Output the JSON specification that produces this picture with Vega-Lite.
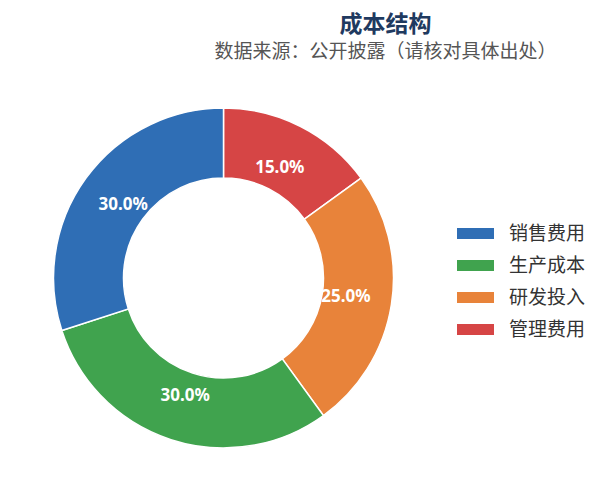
{
  "$schema": "https://vega.github.io/schema/vega-lite/v6.json",
  "autosize": {"type": "none"},
  "padding": {"left": 0, "top": 80, "right": 158, "bottom": 27},
  "width": 447,
  "height": 396,
  "background": "white",
  "title": {
    "text": "成本结构",
    "subtitle": "数据来源：公开披露（请核对具体出处）",
    "anchor": "middle",
    "frame": "group",
    "dx": 162,
    "offset": 18,
    "font": "Noto Sans CJK SC",
    "fontSize": 23,
    "fontWeight": "bold",
    "color": "#1F3A60",
    "subtitleFont": "Noto Sans CJK SC",
    "subtitleFontSize": 19,
    "subtitleColor": "#555555",
    "subtitlePadding": 6
  },
  "data": {
    "values": [
      {"category": "管理费用", "share": 0.15, "k": 1},
      {"category": "研发投入", "share": 0.25, "k": 2},
      {"category": "生产成本", "share": 0.30, "k": 3},
      {"category": "销售费用", "share": 0.30, "k": 4}
    ]
  },
  "encoding": {
    "theta": {"field": "share", "type": "quantitative", "stack": true},
    "order": {"field": "k", "type": "quantitative", "sort": "ascending"}
  },
  "layer": [
    {
      "mark": {"type": "arc", "outerRadius": 170, "innerRadius": 100, "stroke": "white", "strokeWidth": 1.5},
      "encoding": {
        "color": {
          "field": "category",
          "type": "nominal",
          "scale": {
            "domain": ["销售费用", "生产成本", "研发投入", "管理费用"],
            "range": ["#2F6EB5", "#40A34E", "#E8833A", "#D64545"]
          },
          "legend": {
            "title": null,
            "orient": "none",
            "legendX": 457,
            "legendY": 135,
            "padding": 0,
            "symbolType": "M-1,-0.3H1V0.3H-1Z",
            "symbolSize": 1369,
            "symbolStrokeWidth": 0,
            "symbolOpacity": 1,
            "labelFont": "Noto Sans CJK SC",
            "labelFontSize": 19,
            "labelColor": "#333333",
            "labelOffset": 15,
            "rowPadding": 3
          }
        }
      }
    },
    {
      "mark": {"type": "text", "radius": 124, "font": "Noto Sans", "fontSize": 17, "fontWeight": "bold", "fill": "white"},
      "encoding": {
        "text": {"field": "share", "type": "quantitative", "format": ".1%"}
      }
    }
  ]
}
